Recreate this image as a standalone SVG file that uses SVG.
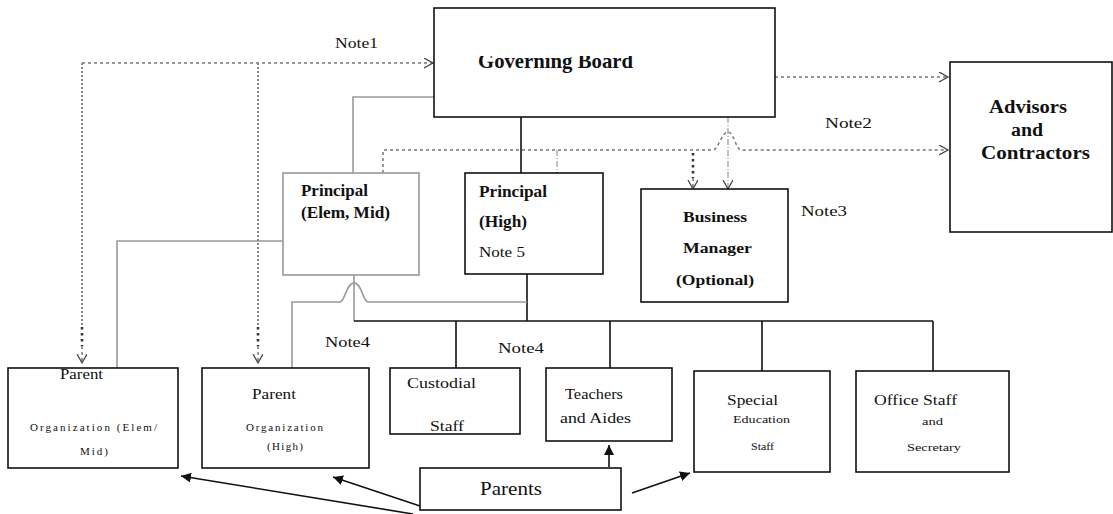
<svg xmlns="http://www.w3.org/2000/svg" width="1113" height="514" viewBox="0 0 1113 514">
<style>
.box{fill:#fff;stroke:#111;stroke-width:1.6}
.gbox{fill:#fff;stroke:#999;stroke-width:1.6}
.t{font-family:"Liberation Serif",serif;fill:#111}
.b{font-weight:bold}
.s14{font-size:14px}.s11{font-size:11px}.s15{font-size:15px}.s16{font-size:16px}.s17{font-size:17px}.s18{font-size:18px}
.ln{fill:none;stroke:#111;stroke-width:1.6}
.gl{fill:none;stroke:#999;stroke-width:1.6}
.dash{fill:none;stroke:#777;stroke-width:1.5;stroke-dasharray:3 3}
.dot{fill:none;stroke:#888;stroke-width:2;stroke-dasharray:2 2}
.dotk{fill:none;stroke:#333;stroke-width:2.5;stroke-dasharray:2.5 3.5}
.dd{fill:none;stroke:#999;stroke-width:1.2;stroke-dasharray:6 2 1 2}
</style>
<defs>
<marker id="open" markerUnits="userSpaceOnUse" markerWidth="12" markerHeight="12" refX="9" refY="5" orient="auto">
<path d="M0,0 L9,5 L0,10" fill="none" stroke="#444" stroke-width="1.3"/>
</marker>
<marker id="fill" markerUnits="userSpaceOnUse" markerWidth="12" markerHeight="12" refX="10" refY="5" orient="auto">
<path d="M0,0 L10,5 L0,10 z" fill="#111"/>
</marker>
<clipPath id="gbclip"><rect x="434" y="56" width="341" height="61"/></clipPath>
</defs>

<g id="connectors">
<path class="gl" d="M435,97 H353 V173"/>
<path class="ln" d="M521,117 V173"/>
<path class="gl" d="M283,241 H117 V368"/>
<path class="gl" d="M354,275 V321"/>
<path class="ln" d="M527,274 V321"/>
<path class="ln" d="M354,321 H933"/>
<path class="gl" d="M292,368 V302 H340 C345,302 346,283 354,283 C362,283 363,302 368,302 H527"/>
<path class="ln" d="M456,321 V368 M610,321 V368 M762,321 V371 M933,321 V371"/>
<path class="dash" d="M82,63 H433" marker-end="url(#open)"/>
<path class="dot" d="M82,63 V327"/>
<path class="dotk" d="M82,327 V346"/>
<path class="dash" d="M82,346 V363" marker-end="url(#open)"/>
<path class="dot" d="M258,63 V327"/>
<path class="dotk" d="M258,327 V346"/>
<path class="dash" d="M258,346 V363" marker-end="url(#open)"/>
<path class="dash" d="M775,77 H948" marker-end="url(#open)"/>
<path class="dash" d="M383,173 V150 H713 C718,150 722,132 728,132 C734,132 736,150 741,150 H948" marker-end="url(#open)"/>
<path class="dd" d="M557,150 V173"/>
<path class="dotk" d="M693,153 V178"/>
<path class="dash" d="M693,178 V189" marker-end="url(#open)"/>
<path class="dd" d="M728,117 V189" marker-end="url(#open)"/>
<path class="ln" d="M609,467 V445" marker-end="url(#fill)"/>
<path class="ln" d="M632,493 L690,473" marker-end="url(#fill)"/>
<path class="ln" d="M420,506 L333,477" marker-end="url(#fill)"/>
<path class="ln" d="M413,514 L181,476" marker-end="url(#fill)"/>
</g>

<g id="notes">
<text class="t s15" x="335" y="48" textLength="43" lengthAdjust="spacingAndGlyphs">Note1</text>
<text class="t s15" x="825" y="128" textLength="47" lengthAdjust="spacingAndGlyphs">Note2</text>
<text class="t s15" x="801" y="216" textLength="46" lengthAdjust="spacingAndGlyphs">Note3</text>
<text class="t s15" x="325" y="347" textLength="45" lengthAdjust="spacingAndGlyphs">Note4</text>
<text class="t s15" x="498" y="353" textLength="46" lengthAdjust="spacingAndGlyphs">Note4</text>
</g>

<g id="governing-board">
<rect class="box" x="434" y="8" width="341" height="109"/>
<text class="t b" font-size="21" x="478" y="68" textLength="155" lengthAdjust="spacingAndGlyphs" clip-path="url(#gbclip)">Governing Board</text>
</g>

<g id="advisors">
<rect class="box" x="950" y="62" width="162" height="170"/>
<text class="t b s18" x="989" y="113" textLength="78" lengthAdjust="spacingAndGlyphs">Advisors</text>
<text class="t b s18" x="1011" y="136" textLength="32" lengthAdjust="spacingAndGlyphs">and</text>
<text class="t b s18" x="981" y="159" textLength="109" lengthAdjust="spacingAndGlyphs">Contractors</text>
</g>

<g id="principal-elem">
<rect class="gbox" x="283" y="173" width="136" height="102"/>
<text class="t b s17" x="301" y="196" textLength="67" lengthAdjust="spacingAndGlyphs">Principal</text>
<text class="t b s17" x="301" y="218" textLength="89" lengthAdjust="spacingAndGlyphs">(Elem, Mid)</text>
</g>

<g id="principal-high">
<rect class="box" x="465" y="173" width="138" height="101"/>
<text class="t b s16" x="479" y="197" textLength="68" lengthAdjust="spacingAndGlyphs">Principal</text>
<text class="t b s16" x="479" y="227" textLength="48" lengthAdjust="spacingAndGlyphs">(High)</text>
<text class="t s15" x="479" y="257" textLength="46" lengthAdjust="spacingAndGlyphs">Note 5</text>
</g>

<g id="business-manager">
<rect class="box" x="641" y="189" width="147" height="113"/>
<text class="t b s15" x="683" y="222" textLength="64" lengthAdjust="spacingAndGlyphs">Business</text>
<text class="t b s15" x="683" y="253" textLength="69" lengthAdjust="spacingAndGlyphs">Manager</text>
<text class="t b s15" x="676" y="285" textLength="78" lengthAdjust="spacingAndGlyphs">(Optional)</text>
</g>

<g id="parent-org-elem">
<rect class="box" x="8" y="368" width="170" height="100"/>
<text class="t s15" x="60" y="379" textLength="43" lengthAdjust="spacingAndGlyphs">Parent</text>
<text class="t s11" x="30" y="431" textLength="127">Organization (Elem/</text>
<text class="t s11" x="80" y="455" textLength="28">Mid)</text>
</g>

<g id="parent-org-high">
<rect class="box" x="202" y="368" width="167" height="100" stroke-width="2.6"/>
<text class="t s15" x="252" y="399" textLength="44" lengthAdjust="spacingAndGlyphs">Parent</text>
<text class="t s11" x="246" y="431" textLength="77">Organization</text>
<text class="t s11" x="267" y="450" textLength="36">(High)</text>
</g>

<g id="custodial">
<rect class="box" x="390" y="368" width="130" height="66"/>
<text class="t s15" x="407" y="388" textLength="69" lengthAdjust="spacingAndGlyphs">Custodial</text>
<text class="t s15" x="430" y="431" textLength="34" lengthAdjust="spacingAndGlyphs">Staff</text>
</g>

<g id="teachers">
<rect class="box" x="546" y="368" width="126" height="73"/>
<text class="t s15" x="565" y="399" textLength="58" lengthAdjust="spacingAndGlyphs">Teachers</text>
<text class="t s15" x="560" y="423" textLength="71" lengthAdjust="spacingAndGlyphs">and Aides</text>
</g>

<g id="special-ed">
<rect class="box" x="694" y="371" width="136" height="101"/>
<text class="t s15" x="727" y="405" textLength="51" lengthAdjust="spacingAndGlyphs">Special</text>
<text class="t s11" x="733" y="423" textLength="57" lengthAdjust="spacingAndGlyphs">Education</text>
<text class="t s11" x="751" y="450" textLength="23" lengthAdjust="spacingAndGlyphs">Staff</text>
</g>

<g id="office-staff">
<rect class="box" x="856" y="371" width="153" height="101"/>
<text class="t s15" x="874" y="405" textLength="83" lengthAdjust="spacingAndGlyphs">Office Staff</text>
<text class="t s11" x="922" y="425" textLength="21" lengthAdjust="spacingAndGlyphs">and</text>
<text class="t s11" x="907" y="451" textLength="54" lengthAdjust="spacingAndGlyphs">Secretary</text>
</g>

<g id="parents">
<rect class="box" x="420" y="468" width="201" height="42"/>
<text class="t s18" x="480" y="495" textLength="62" lengthAdjust="spacingAndGlyphs">Parents</text>
</g>
</svg>
